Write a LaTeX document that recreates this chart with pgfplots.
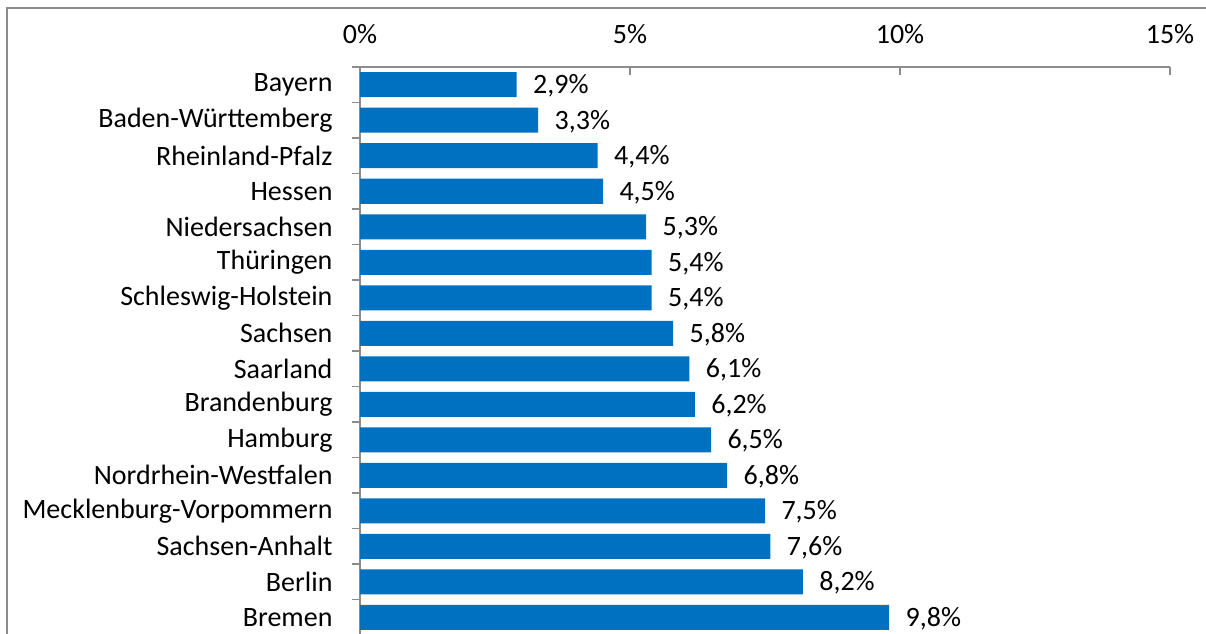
\documentclass[border=0pt]{standalone}
\usepackage{pgfplots}
\pgfplotsset{compat=1.18}
\usepackage{fontspec}
\setmainfont{Carlito}
\definecolor{barblue}{HTML}{0070C0}
\definecolor{axgray}{HTML}{8C8C8C}
\begin{document}
\fontsize{28}{32}\selectfont
\begin{tikzpicture}[x=1pt,y=1pt]
\useasboundingbox (0,0) rectangle (1206,633);
\draw[color=axgray, line width=1.6pt] (7,-5) -- (7,625) -- (1210,625);
\begin{axis}[
  at={(360pt,566pt)}, anchor=north west,
  width=810pt, height=568pt, scale only axis,
  xmin=0, xmax=15, ymin=-0.5, ymax=15.5,
  axis x line*=top, axis y line*=left,
  axis line style={color=axgray, line width=1.4pt},
  every tick/.style={color=axgray, line width=1.4pt},
  xtick={0,5,10,15},
  xticklabels={0\%,5\%,10\%,15\%},
  xtick align=inside,
  ytick align=outside,
  major tick length=8pt,
  ytick={-0.5,0.5,...,15.5},
  y tick label as interval,
  yticklabels={Bremen,Berlin,Sachsen-Anhalt,Mecklenburg-Vorpommern,Nordrhein-Westfalen,Hamburg,Brandenburg,Saarland,Sachsen,Schleswig-Holstein,Thüringen,Niedersachsen,Hessen,Rheinland-Pfalz,Baden-Württemberg,Bayern},
  xticklabel style={font=\fontsize{28}{32}\selectfont, yshift=14pt},
  yticklabel style={font=\fontsize{28}{32}\selectfont, xshift=-10pt},
  xbar, bar width=25pt,
  /pgf/number format/.cd, fixed, fixed zerofill, precision=1, use comma, assume math mode=true,
  /pgfplots/.cd,
  nodes near coords={\pgfmathprintnumber{\pgfplotspointmeta}\%},
  nodes near coords style={font=\fontsize{28}{32}\selectfont, anchor=west, xshift=7pt, yshift=-1pt, text=black},
  clip=false,
]
\addplot[fill=barblue, draw=none] coordinates {
(9.8,0) (8.2,1) (7.6,2) (7.5,3) (6.8,4) (6.5,5) (6.2,6) (6.1,7)
(5.8,8) (5.4,9) (5.4,10) (5.3,11) (4.5,12) (4.4,13) (3.3,14) (2.9,15)
};
\end{axis}
\end{tikzpicture}
\end{document}
